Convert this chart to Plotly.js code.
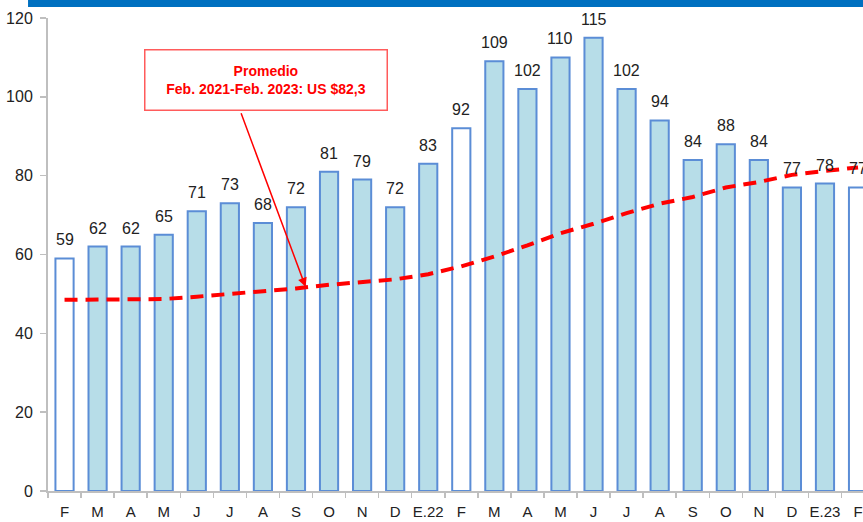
<!DOCTYPE html>
<html>
<head>
<meta charset="utf-8">
<script src="https://cdn.plot.ly/plotly-3.0.1.min.js"></script>
<style>html,body{margin:0;padding:0;background:#fff;}#chart{width:863px;height:522px;}</style>
</head>
<body>
<div id="chart"></div>
<script>
// Month labels (Feb 2021 - Feb 2023)
const months = ["F","M","A","M","J","J","A","S","O","N","D","E.22","F","M","A","M","J","J","A","S","O","N","D","E.23","F"];
// Monthly price (US$)
const prices = [59,62,62,65,71,73,68,72,81,79,72,83,92,109,102,110,115,102,94,84,88,84,77,78,77];
// Average line
const average = [48.5,48.5,48.5,48.7,49.3,50.0,50.6,51.4,52.3,53.0,53.7,55.0,57.0,59.5,62.3,65.4,67.8,70.5,72.9,74.6,77.0,78.4,80.2,81.2,82.1];
// Annotation text
const noteLines = ["Promedio", "Feb. 2021-Feb. 2023: US $82,3"];
const arrowTarget = {x: 7.29, y: 51.8};

const idx = months.map((_, i) => i);
const FONT = "'Liberation Sans Narrow', 'Arial Narrow', 'Liberation Sans', Arial, sans-serif";
const barFill = months.map(m => m === "F" ? "#FFFFFF" : "#B7DDE8");

const traces = [
  {
    type: "bar", x: idx, y: prices, width: 0.55,
    marker: {color: barFill, line: {color: "#5B8DD6", width: 2}},
    hoverinfo: "skip", showlegend: false
  },
  {
    type: "scatter", mode: "lines", x: idx, y: average,
    line: {color: "#FF0000", width: 4, dash: "13px,8px"},
    hoverinfo: "skip", showlegend: false
  }
];

const annotations = prices.map((v, i) => ({
  x: i, y: v, xref: "x", yref: "y", text: String(v), showarrow: false,
  yanchor: "bottom", yshift: 8,
  font: {family: FONT, size: 16, color: "#222"}
}));

annotations.push({
  xref: "paper", yref: "paper", x: 0.267, y: 0.868,
  xanchor: "center", yanchor: "middle",
  text: "<b>" + noteLines.join("<br>") + "</b>",
  showarrow: false, align: "center",
  font: {family: FONT, size: 14, color: "#FF0000"},
  bordercolor: "#FF5B5B", borderwidth: 1.5, borderpad: 1,
  bgcolor: "#FFFFFF", width: 239, height: 57
});
annotations.push({
  x: arrowTarget.x, y: arrowTarget.y, xref: "x", yref: "y",
  text: "", showarrow: true, ax: -65, ay: -175,
  arrowhead: 2, arrowsize: 1.2, arrowwidth: 1.5, arrowcolor: "#FF0000"
});

const layout = {
  width: 863, height: 522,
  margin: {l: 48, r: 0, t: 18, b: 31, pad: 0},
  paper_bgcolor: "#FFFFFF", plot_bgcolor: "#FFFFFF",
  bargap: 0.45,
  xaxis: {
    range: [-0.5, 24.15], tickmode: "array", tickvals: idx, ticktext: months,
    ticks: "", showgrid: false, zeroline: false,
    showline: true, linecolor: "#BFBFBF", linewidth: 2,
    tickfont: {family: FONT, size: 15, color: "#222"},
    ticklabelstandoff: 6,
    minor: {tick0: 0.5, dtick: 1, ticks: "outside", ticklen: 5, tickcolor: "#BFBFBF", tickwidth: 1.5, showgrid: false}
  },
  yaxis: {
    range: [0, 120], dtick: 20, showgrid: false, zeroline: false,
    showline: true, linecolor: "#BFBFBF", linewidth: 2,
    ticks: "outside", ticklen: 6, tickcolor: "#BFBFBF", tickwidth: 1.5,
    tickfont: {family: FONT, size: 16, color: "#222"},
    ticklabelstandoff: 4
  },
  shapes: [{
    type: "rect", xref: "paper", yref: "paper",
    x0: -0.0245, x1: 1.01, y0: 1.0233, y1: 1.06,
    fillcolor: "#0070C0", line: {width: 0}
  }],
  annotations: annotations
};

Plotly.newPlot("chart", traces, layout, {displayModeBar: false, staticPlot: true});
</script>
</body>
</html>
